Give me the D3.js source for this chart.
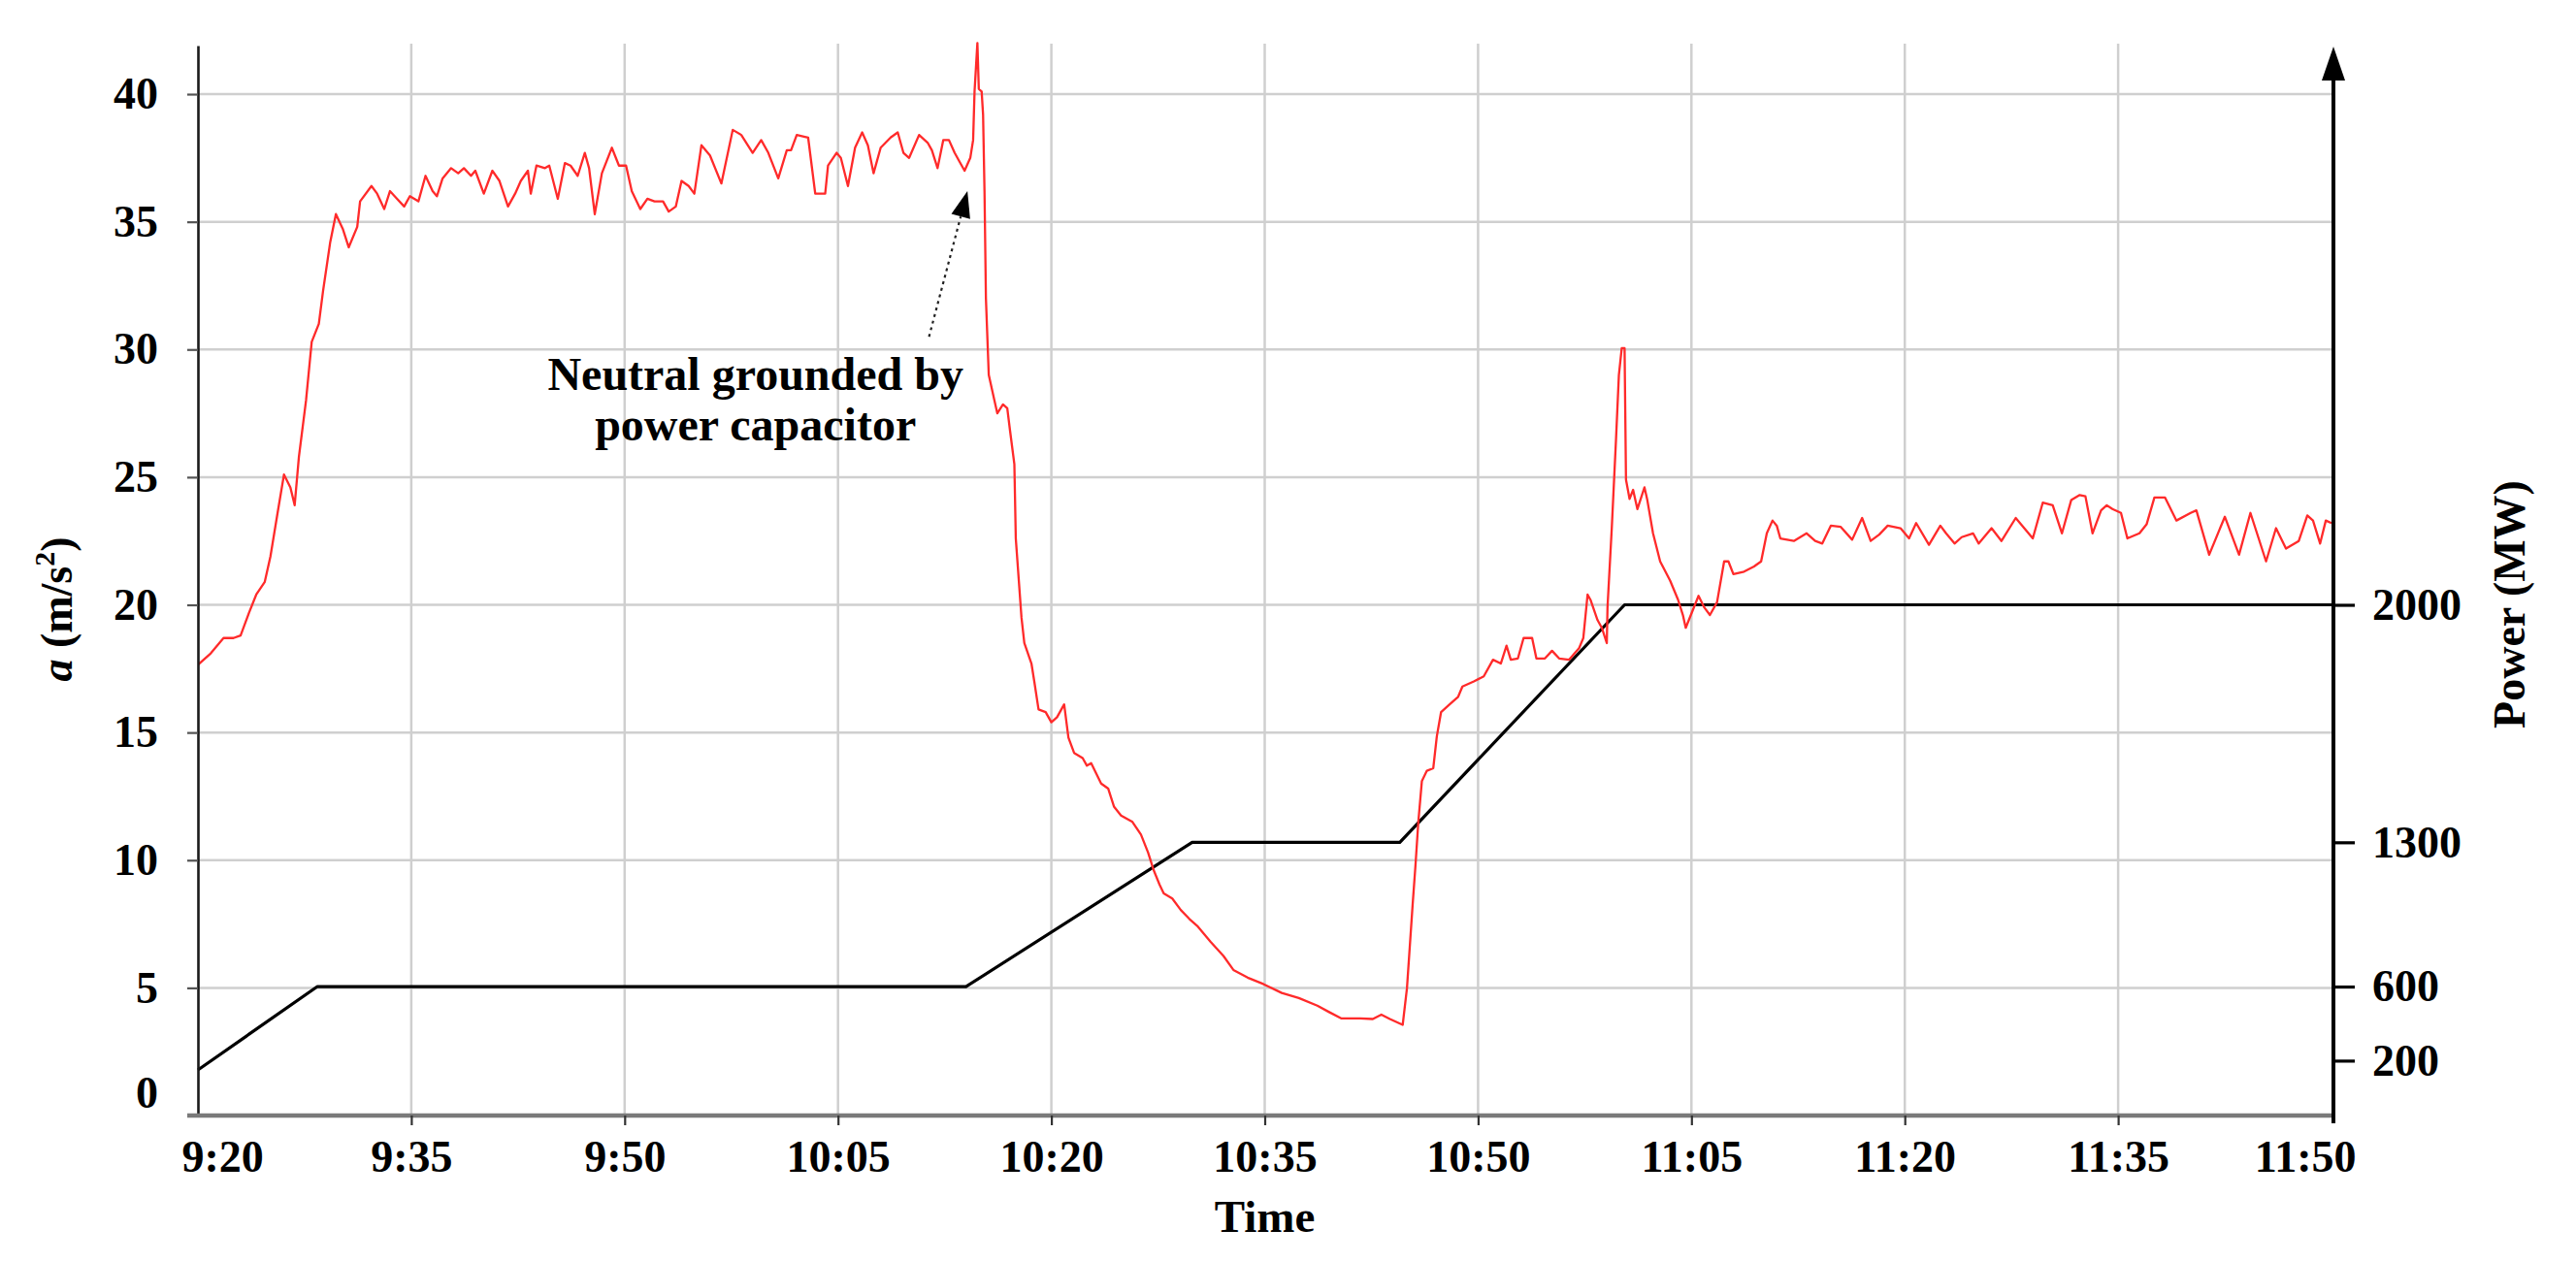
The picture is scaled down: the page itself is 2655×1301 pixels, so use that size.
<!DOCTYPE html>
<html>
<head>
<meta charset="utf-8">
<script src="https://cdn.jsdelivr.net/npm/d3@7"></script>
<style>
  html, body { margin: 0; padding: 0; background: #ffffff; }
  svg { display: block; }
  text { font-family: "Liberation Serif", "Times New Roman", serif; font-weight: bold; fill: #000; }
</style>
</head>
<body>
<svg id="chart" width="2655" height="1301"></svg>
<script>
// ---------------- DATA ----------------
const timeTicks = ["9:20","9:35","9:50","10:05","10:20","10:35","10:50","11:05","11:20","11:35","11:50"];
const accTicks = [0, 5, 10, 15, 20, 25, 30, 35, 40];
const powerTicks = [200, 600, 1300, 2000];
// level (in m/s^2 units of the left axis) at which each power tick sits on the schematic right axis
const powerTickLevels = [2.15, 5.05, 10.7, 20.0];

// acceleration a (m/s^2): minutes after 9:20 and values
const accMinutes = [
  0,0.9,1.8,2.5,3.0,3.6,4.1,4.7,5.1,5.6,
  6.05,6.5,6.8,7.1,7.6,8.0,8.5,8.8,9.3,9.7,
  10.2,10.6,11.2,11.4,12.2,12.6,13.1,13.5,14.0,14.5,
  14.9,15.5,16.0,16.5,16.8,17.2,17.8,18.3,18.7,19.2,
  19.5,20.1,20.7,21.2,21.8,22.3,22.7,23.2,23.4,23.8,
  24.4,24.7,25.3,25.8,26.2,26.7,27.2,27.5,27.9,28.4,
  29.1,29.6,30.1,30.5,31.1,31.6,32.1,32.7,33.1,33.6,
  34.0,34.5,34.9,35.4,36.0,36.8,37.6,38.2,39.0,39.6,
  40.1,40.8,41.4,41.7,42.1,42.9,43.4,44.1,44.3,44.9,
  45.2,45.7,46.2,46.7,47.1,47.5,48.0,48.7,49.2,49.6,
  50.0,50.7,51.3,51.6,52.0,52.4,52.8,53.2,53.5,53.9,
  54.3,54.5,54.6,54.8,54.9,55.1,55.2,55.3,55.4,55.6,
  56.0,56.2,56.6,56.9,57.1,57.4,57.5,57.9,58.1,58.6,
  58.8,59.1,59.6,60.0,60.4,60.9,61.2,61.6,62.2,62.5,
  62.8,63.5,64.0,64.4,64.9,65.7,66.3,66.8,67.2,67.6,
  67.9,68.5,69.1,69.7,70.3,71.2,72.1,72.8,73.8,74.9,
  76.2,77.4,78.7,79.5,80.4,81.7,82.6,83.2,83.8,84.7,
  85.0,85.4,85.6,85.8,86.05,86.4,86.85,87.1,87.4,88.0,
  88.6,88.9,89.7,90.4,91.05,91.6,92.0,92.3,92.8,93.2,
  93.8,94.1,94.7,95.2,95.7,96.4,97.1,97.4,97.7,97.9,
  98.4,98.7,99.05,99.1,99.4,99.7,99.9,100.1,100.3,100.4,
  100.65,100.9,101.2,101.7,101.9,102.3,102.8,103.5,104.06,104.4,
  104.6,104.96,105.5,105.9,106.3,106.8,107.3,107.6,107.95,108.7,
  109.4,109.9,110.3,110.7,111.0,111.25,112.2,113.1,113.7,114.2,
  114.8,115.5,116.3,117.0,117.6,118.2,118.8,119.7,120.3,120.8,
  121.7,122.5,122.9,123.5,124.0,124.8,125.2,126.1,126.8,127.8,
  129.0,129.7,130.4,131.05,131.7,132.3,132.7,133.2,133.8,134.2,
  134.6,135.2,135.65,136.5,137.0,137.55,138.3,139.1,140.1,140.5,
  141.4,142.5,143.5,144.3,145.4,146.1,146.8,147.7,148.3,148.7,
  149.2,149.6,150
];
const accValues = [
  17.65,18.1,18.7,18.7,18.8,19.7,20.4,20.9,21.9,23.6,
  25.1,24.6,23.9,25.8,28.0,30.3,31.0,32.3,34.2,35.3,
  34.7,34.0,34.8,35.8,36.4,36.1,35.5,36.2,35.9,35.6,
  36.0,35.8,36.8,36.2,36.0,36.7,37.1,36.9,37.1,36.8,
  37.0,36.1,37.0,36.6,35.6,36.1,36.6,37.0,36.1,37.2,
  37.1,37.2,35.9,37.3,37.2,36.8,37.7,37.1,35.3,36.9,
  37.9,37.2,37.2,36.2,35.5,35.9,35.8,35.8,35.4,35.6,
  36.6,36.4,36.1,38.0,37.6,36.5,38.6,38.4,37.7,38.2,
  37.7,36.7,37.8,37.8,38.4,38.3,36.1,36.1,37.2,37.7,
  37.5,36.4,37.9,38.5,38.0,36.9,37.9,38.3,38.5,37.7,
  37.5,38.4,38.1,37.8,37.1,38.2,38.2,37.7,37.4,37.0,
  37.5,38.2,40.1,42.0,40.2,40.1,39.2,36.2,32.0,29.0,
  28.0,27.5,27.85,27.7,26.8,25.5,22.6,19.5,18.5,17.7,
  17.0,15.9,15.8,15.4,15.6,16.1,14.8,14.2,14.0,13.7,
  13.8,13.0,12.8,12.1,11.75,11.5,11.0,10.3,9.6,9.05,
  8.7,8.5,8.05,7.7,7.4,6.8,6.25,5.7,5.4,5.15,
  4.8,4.6,4.3,4.06,3.8,3.8,3.78,3.95,3.78,3.55,
  4.98,8.26,9.8,11.5,13.1,13.5,13.6,14.85,15.8,16.1,
  16.4,16.8,17.0,17.2,17.85,17.7,18.4,17.85,17.9,18.7,
  18.7,17.9,17.9,18.2,17.9,17.85,18.3,18.7,20.4,20.2,
  19.4,19.1,18.5,19.9,23.0,26.5,29.0,30.05,30.05,24.9,
  24.15,24.5,23.75,24.6,24.1,22.8,21.7,20.95,20.2,19.6,
  19.1,19.6,20.35,19.9,19.6,20.1,21.7,21.7,21.2,21.3,
  21.5,21.7,22.8,23.3,23.1,22.6,22.5,22.8,22.5,22.4,
  23.1,23.05,22.55,23.4,22.5,22.75,23.1,23.0,22.6,23.2,
  22.35,23.1,22.8,22.4,22.65,22.8,22.4,23.0,22.5,23.4,
  22.6,24.0,23.9,22.8,24.1,24.3,24.25,22.8,23.7,23.9,
  23.75,23.6,22.6,22.8,23.15,24.2,24.2,23.3,23.6,23.7,
  21.96,23.45,21.96,23.6,21.7,23.0,22.2,22.5,23.5,23.3,
  22.4,23.3,23.2
];

// power (MW): minutes after 9:20 and values
const powerMinutes = [0, 8.4, 54.0, 69.9, 84.5, 100.3, 150];
const powerValues  = [150, 600, 600, 1300, 1300, 2000, 2000];

// annotation
const annotationLines = ["Neutral grounded by", "power capacitor"];
const annotationTextAt = { minute: 39.2, value: 28.4 };
const annotationArrowFrom = { minute: 51.4, value: 30.5 };
const annotationArrowTo = { minute: 54.1, value: 36.2 };

// ---------------- CHART ----------------
const toMin = s => { const [h, m] = s.split(":").map(Number); return h * 60 + m - (9 * 60 + 20); };
const tickMinutes = timeTicks.map(toMin);

const svg = d3.select("#chart");
const pL = 204, pR = 2403, pT = 47, pB = 1150;

const x = d3.scaleLinear().domain([0, 150]).range([pL, pR]);
const y = d3.scaleLinear().domain([0, 41.9]).range([pB, pT]);
const yP = d3.scaleLinear().domain(powerTicks).range(powerTickLevels.map(v => y(v)));

const grid = svg.append("g");
grid.selectAll("line.h").data(accTicks.filter(v => v > 0)).join("line")
  .attr("x1", pL).attr("x2", pR)
  .attr("y1", d => y(d)).attr("y2", d => y(d))
  .attr("stroke", "#cfcfcf").attr("stroke-width", 2.5);
grid.selectAll("line.v").data(tickMinutes.slice(1, -1)).join("line")
  .attr("x1", d => x(d)).attr("x2", d => x(d))
  .attr("y1", pT - 2).attr("y2", pB)
  .attr("stroke", "#cfcfcf").attr("stroke-width", 2.5);

svg.append("clipPath").attr("id", "plotclip").append("rect")
  .attr("x", pL).attr("y", pT - 4).attr("width", pR - pL + 2).attr("height", pB - pT + 4);

// power line
const powerLine = d3.line().x((d, i) => x(powerMinutes[i])).y(d => yP(d));
svg.append("path").datum(powerValues)
  .attr("d", powerLine)
  .attr("fill", "none").attr("stroke", "#000").attr("stroke-width", 3.2)
  .attr("stroke-linejoin", "round");

// acceleration line
const accLine = d3.line().x((d, i) => x(accMinutes[i])).y(d => y(d));
svg.append("path").datum(accValues)
  .attr("clip-path", "url(#plotclip)")
  .attr("d", accLine)
  .attr("fill", "none").attr("stroke", "#ff2a2a").attr("stroke-width", 2.3)
  .attr("stroke-linejoin", "round");

// left axis
const yAxis = d3.axisLeft(y).tickValues(accTicks).tickSize(11).tickSizeOuter(0).tickPadding(30).tickFormat(d3.format("d"));
const gy = svg.append("g").attr("transform", `translate(${pL},0)`).call(yAxis);
gy.select(".domain").attr("stroke", "#1a1a1a").attr("stroke-width", 2.6);
gy.selectAll(".tick line").attr("stroke", "#555").attr("stroke-width", 2.2);
gy.selectAll(".tick text").attr("font-size", 46).attr("fill", "#000");
gy.attr("font-family", null).attr("font-size", null);
gy.selectAll(".tick").filter(d => d === 0).select("text").attr("dy", "-0.18em");
gy.selectAll(".tick").filter(d => d === 0).select("line").remove();

// bottom axis
const xAxis = d3.axisBottom(x).tickValues(tickMinutes).tickSize(10).tickSizeOuter(0).tickPadding(15)
  .tickFormat((d, i) => timeTicks[i]);
const gx = svg.append("g").attr("transform", `translate(0,${pB})`).call(xAxis);
gx.attr("font-family", null).attr("font-size", null);
gx.select(".domain").remove();
gx.insert("line", ":first-child").attr("x1", pL - 11).attr("x2", pR).attr("y1", 0).attr("y2", 0)
  .attr("stroke", "#7a7a7a").attr("stroke-width", 4.5);
gx.selectAll(".tick line").attr("stroke", "#333").attr("stroke-width", 2.2);
gx.selectAll(".tick text").attr("font-size", 46).attr("fill", "#000");
gx.selectAll(".tick").filter((d, i) => i === 0).select("text").attr("text-anchor", "start").attr("x", -17);
gx.selectAll(".tick").filter((d, i) => i === tickMinutes.length - 1).select("text").attr("text-anchor", "end").attr("x", 25);
gx.selectAll(".tick").filter((d, i) => i === 0 || i === tickMinutes.length - 1).select("line").remove();

// right axis (power)
const axisX = pR + 2;
const pAxis = d3.axisRight(yP).tickValues(powerTicks).tickSize(22).tickSizeOuter(0).tickPadding(18).tickFormat(d3.format("d"));
const gp = svg.append("g").attr("transform", `translate(${axisX},0)`).call(pAxis);
gp.attr("font-family", null).attr("font-size", null);
gp.select(".domain").remove();
gp.selectAll(".tick line").attr("stroke", "#000").attr("stroke-width", 3.2);
gp.selectAll(".tick text").attr("font-size", 46).attr("fill", "#000");
gp.append("line").attr("x1", 0).attr("x2", 0).attr("y1", pB + 8).attr("y2", pT + 34)
  .attr("stroke", "#000").attr("stroke-width", 4);
gp.append("path").attr("d", `M0,${pT + 1} L-12,${pT + 36} L12,${pT + 36} Z`).attr("fill", "#000");

// axis titles
svg.append("text").attr("x", (pL + pR) / 2).attr("y", 1270).attr("text-anchor", "middle")
  .attr("font-size", 47).text("Time");

const yt = svg.append("text").attr("transform", "translate(74,628) rotate(-90)").attr("text-anchor", "middle")
  .attr("font-size", 46);
yt.append("tspan").attr("font-style", "italic").text("a");
yt.append("tspan").text(" (m/s");
yt.append("tspan").attr("font-size", 30).attr("dy", -18).text("2");
yt.append("tspan").attr("dy", 18).text(")");

svg.append("text").attr("transform", "translate(2602,623) rotate(-90)").attr("text-anchor", "middle")
  .attr("font-size", 46).text("Power (MW)");

// annotation
const ann = svg.append("text").attr("text-anchor", "middle").attr("font-size", 48);
annotationLines.forEach((t, i) => {
  ann.append("tspan").attr("x", x(annotationTextAt.minute)).attr("y", y(annotationTextAt.value) + i * 52).text(t);
});
const ax0 = x(annotationArrowFrom.minute), ay0 = y(annotationArrowFrom.value);
const ax1 = x(annotationArrowTo.minute), ay1 = y(annotationArrowTo.value);
const ang = Math.atan2(ay1 - ay0, ax1 - ax0);
const headLen = 27, headHalf = 10;
const bx = ax1 - headLen * Math.cos(ang), by = ay1 - headLen * Math.sin(ang);
svg.append("line").attr("x1", ax0).attr("y1", ay0).attr("x2", bx).attr("y2", by)
  .attr("stroke", "#222").attr("stroke-width", 2.2).attr("stroke-dasharray", "3,4");
const px = -Math.sin(ang), py = Math.cos(ang);
svg.append("path")
  .attr("d", `M${ax1},${ay1} L${bx + headHalf * px},${by + headHalf * py} L${bx - headHalf * px},${by - headHalf * py} Z`)
  .attr("fill", "#000");
</script>
</body>
</html>
